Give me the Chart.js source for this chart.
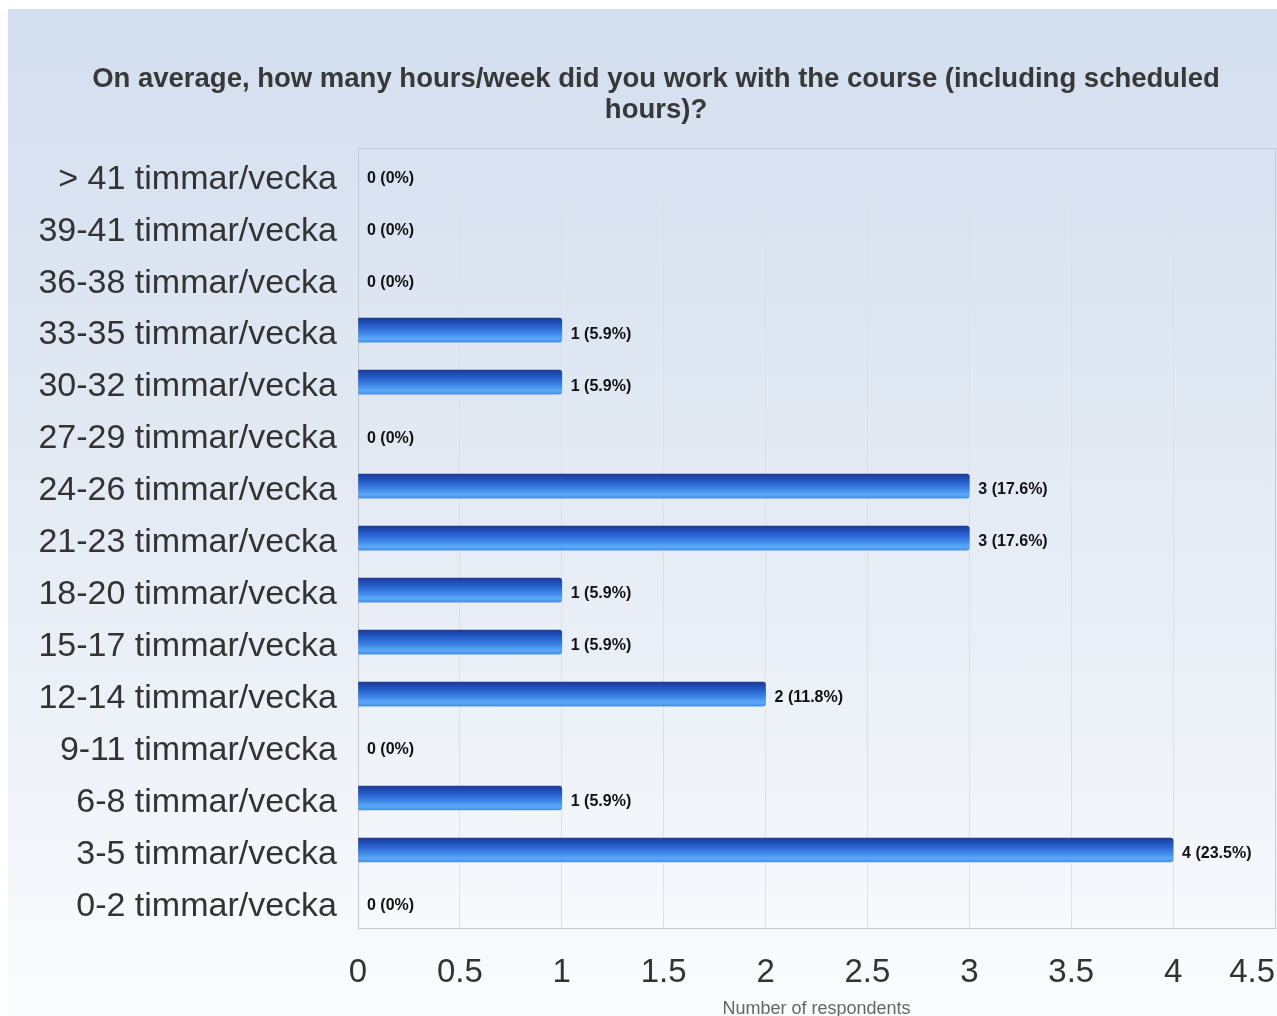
<!DOCTYPE html>
<html>
<head>
<meta charset="utf-8">
<script src="https://cdn.jsdelivr.net/npm/chart.js@4/dist/chart.umd.min.js"></script>
<style>
  html, body { margin: 0; padding: 0; background: #ffffff; overflow: hidden; width: 1277px; height: 1016px; }
  #box { position: absolute; left: 8px; top: 9px; width: 1269px; height: 1007px;
         background: linear-gradient(to bottom, #d3deef 0%, #dfe7f2 35%, #edf1f8 70%, #fbfcfe 100%); overflow: visible; }
  #wrap { position: absolute; left: 0; top: 0; width: 1296px; height: 1007px; }
</style>
</head>
<body>
<div id="box"><div id="wrap"><canvas id="c" width="1296" height="1007"></canvas></div></div>
<script>
const titleLines = ["On average, how many hours/week did you work with the course (including scheduled", "hours)?"];
const categories = ["> 41 timmar/vecka", "39-41 timmar/vecka", "36-38 timmar/vecka", "33-35 timmar/vecka",
  "30-32 timmar/vecka", "27-29 timmar/vecka", "24-26 timmar/vecka", "21-23 timmar/vecka",
  "18-20 timmar/vecka", "15-17 timmar/vecka", "12-14 timmar/vecka", "9-11 timmar/vecka",
  "6-8 timmar/vecka", "3-5 timmar/vecka", "0-2 timmar/vecka"];
const respondents = [0, 0, 0, 1, 1, 0, 3, 3, 1, 1, 2, 0, 1, 4, 0];
const percentLabels = ["0%", "0%", "0%", "5.9%", "5.9%", "0%", "17.6%", "17.6%", "5.9%", "5.9%", "11.8%", "0%", "5.9%", "23.5%", "0%"];
const xAxisTitle = "Number of respondents";
const xMin = 0, xMax = 4.5, xStep = 0.5;

const FONT = "'Liberation Sans', Arial, Helvetica, sans-serif";

function barGradient(context) {
  const chart = context.chart;
  const v = context.raw;
  if (!v) return 'rgba(0,0,0,0)';
  const yScale = chart.scales && chart.scales.y;
  if (!yScale || context.dataIndex === undefined) return '#2a62cf';
  const yc = yScale.getPixelForValue(context.dataIndex);
  if (!isFinite(yc)) return '#2a62cf';
  const g = chart.ctx.createLinearGradient(0, yc - 12, 0, yc + 12);
  g.addColorStop(0, '#1a3c98');
  g.addColorStop(0.3, '#255bc8');
  g.addColorStop(0.6, '#3c83e6');
  g.addColorStop(0.85, '#5ca8f7');
  g.addColorStop(1, '#4a8ee6');
  return g;
}

const framePlugin = {
  id: 'frame',
  beforeDatasetsDraw(chart) {
    const a = chart.chartArea, ctx = chart.ctx;
    ctx.save();
    ctx.strokeStyle = '#c6cad1';
    ctx.lineWidth = 1;
    ctx.strokeRect(Math.round(a.left) + 0.5, Math.round(a.top) + 0.5, Math.round(a.right - a.left), Math.round(a.bottom - a.top));
    ctx.restore();
  }
};

const labelPlugin = {
  id: 'valueLabels',
  afterDatasetsDraw(chart) {
    const ctx = chart.ctx;
    const meta = chart.getDatasetMeta(0);
    ctx.save();
    ctx.font = "bold 16px " + FONT;
    ctx.fillStyle = '#111111';
    ctx.textAlign = 'left';
    ctx.textBaseline = 'middle';
    meta.data.forEach((bar, i) => {
      const v = chart.data.datasets[0].data[i];
      ctx.fillText(v + " (" + percentLabels[i] + ")", bar.x + 9, bar.y + 4);
    });
    ctx.restore();
  }
};

function xTickLabel(v) {
  const s = String(Math.round(v * 10) / 10);
  // last label is pushed inside the plot edge, as in the original
  return (v === xMax) ? s + "\u00a0\u00a0\u00a0\u00a0\u00a0" : s;
}

new Chart(document.getElementById('c'), {
  type: 'bar',
  data: {
    labels: categories,
    datasets: [{
      data: respondents,
      backgroundColor: barGradient,
      barThickness: 24,
      borderRadius: 3,
      borderSkipped: 'start',
      borderWidth: 0
    }]
  },
  options: {
    indexAxis: 'y',
    responsive: false,
    animation: false,
    devicePixelRatio: 1,
    layout: { padding: { left: 29, right: 29, top: 0, bottom: 0 } },
    plugins: {
      legend: { display: false },
      tooltip: { enabled: false },
      title: {
        display: true,
        text: titleLines,
        color: '#383838',
        font: { family: FONT, size: 27.5, weight: 'bold', lineHeight: 1.13 },
        padding: { top: 55, bottom: 22 }
      }
    },
    scales: {
      x: {
        min: xMin, max: xMax,
        ticks: { stepSize: xStep, color: '#333333', padding: 25, font: { family: FONT, size: 33 },
                 callback: xTickLabel },
        grid: { color: '#dde0e5', drawTicks: false },
        border: { display: false },
        title: { display: true, text: xAxisTitle, color: '#666666', font: { family: FONT, size: 18, lineHeight: 1.0 }, padding: { top: 0, bottom: -2 } },
        afterFit(scale) { scale.height = 88; scale.paddingRight = 0; scale.paddingLeft = 0; }
      },
      y: {
        ticks: { color: '#333333', padding: 21, labelOffset: 5, font: { family: FONT, size: 34 } },
        grid: { display: false, drawTicks: false },
        border: { display: true, color: '#c6cad1' },
        afterFit(scale) { scale.width = 321; }
      }
    }
  },
  plugins: [framePlugin, labelPlugin]
});
</script>
</body>
</html>
